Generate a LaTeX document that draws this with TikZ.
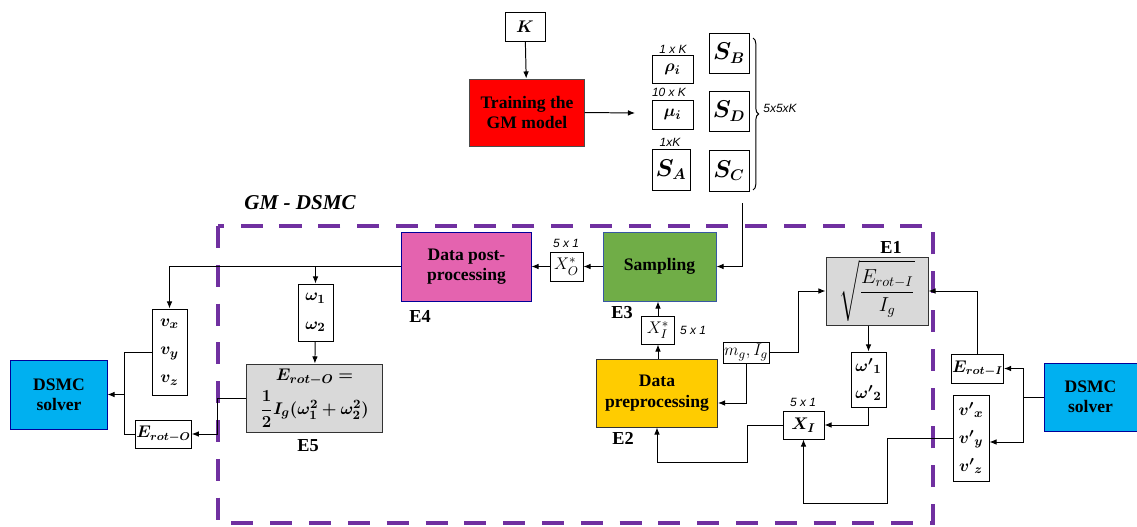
\documentclass[tikz,border=0pt]{standalone}
\usepackage{amsmath,bm}
\usepackage{fontspec}
\setmainfont{Liberation Serif}
\newfontfamily\arialfont{Liberation Sans}
\usetikzlibrary{arrows.meta,decorations.pathreplacing,calc}

\definecolor{gmpurple}{RGB}{112,48,160}
\definecolor{gmred}{RGB}{255,0,0}
\definecolor{gmpink}{RGB}{228,99,175}
\definecolor{gmgreen}{RGB}{112,173,71}
\definecolor{gmyellow}{RGB}{255,204,0}
\definecolor{gmblue}{RGB}{0,176,240}
\definecolor{gmgray}{RGB}{217,217,217}

\begin{document}
\begin{tikzpicture}[x=0.025cm,y=-0.025cm,
  box/.style={draw, line width=0.7pt, inner sep=0.5pt, align=center, font=\fontsize{13}{15}\selectfont},
  blk/.style={box, font=\fontsize{12.5}{14.5}\selectfont\bfseries},
  big/.style={font=\fontsize{16}{18}\selectfont},
  arr/.style={-{Latex[length=5pt,width=4pt]}, line width=0.7pt},
  dim/.style={font=\arialfont\itshape\fontsize{8.5}{10}\selectfont, inner sep=0pt},
  tag/.style={font=\fontsize{13}{15}\selectfont\bfseries, inner sep=0pt}]

\useasboundingbox (0,0) rectangle (1137,526);

% GM - DSMC frame
\draw[gmpurple, line width=3.5pt, dash pattern=on 0.55cm off 0.42cm] (218,226) rectangle (933,523);
\node[font=\fontsize{15}{17}\selectfont\bfseries\itshape] (gmlbl) at (300,203) {GM - DSMC};

% Training of the GM model
\node[box, minimum width=1cm, minimum height=0.725cm] (K) at (525,26.5) {$\bm{K}$};
\node[blk, fill=gmred, draw=black!70, minimum width=2.85cm, minimum height=1.675cm] (train) at (527,112.5) {Training the\\GM model};
\coordinate (gmout) at (635,113);

% GM parameters
\node[box, minimum width=1.025cm, minimum height=0.7cm] (rho) at (672.5,69) {$\bm{\rho_i}$};
\node[box, minimum width=1.025cm, minimum height=0.725cm] (mu) at (672.5,114.5) {$\bm{\mu_i}$};
\node[box, big, minimum width=0.95cm, minimum height=1.025cm] (sA) at (671,169.5) {$\bm{S_A}$};
\node[box, big, minimum width=1cm, minimum height=1cm] (sB) at (729,53) {$\bm{S_B}$};
\node[box, big, minimum width=1cm, minimum height=1cm] (sD) at (729,111) {$\bm{S_D}$};
\node[box, big, minimum width=1cm, minimum height=1.025cm] (sC) at (729,170.5) {$\bm{S_C}$};
\node[dim] (rhodim) at (673,49) {1 x K};
\node[dim] (mudim) at (669,92) {10 x K};
\node[dim] (sAdim) at (670,142) {1xK};
\draw[line width=0.7pt, decorate, decoration={brace, amplitude=4pt}] (753,38) -- (753,190);
\node[dim] (sdim) at (780,108) {5x5xK};
\coordinate (gmdraw) at (742,203);

% GM - DSMC blocks
\node[blk, fill=gmpink, draw=blue!60!black, minimum width=3.225cm, minimum height=1.725cm] (post) at (466.5,266.5) {Data post-\\processing};
\node[box, minimum width=0.825cm, minimum height=0.725cm] (xo) at (566.5,266.5) {$X_O^*$};
\node[blk, fill=gmgreen, draw=blue!50!gmgreen, minimum width=2.825cm, minimum height=1.725cm] (samp) at (659.5,266.5) {Sampling};
\node[box, minimum width=0.825cm, minimum height=0.7cm] (xis) at (658,330) {$X_I^*$};
\node[blk, fill=gmyellow, draw=black!80, minimum width=3.025cm, minimum height=1.7cm] (pre) at (657,393) {Data\\preprocessing};
\node[box, minimum width=1.15cm, minimum height=0.525cm, inner sep=0pt] (mg) at (746,352.5) {$m_g,I_g$};
\node[box, fill=gmgray, draw=black!80, font=\fontsize{14}{16}\selectfont, minimum width=2.55cm, minimum height=1.7cm] (e1) at (877,291) {$\displaystyle\sqrt{\frac{E_{rot-I}}{I_g}}$};
\node[box, minimum width=0.875cm, minimum height=1.375cm] (omp) at (868.5,379.5) {$\bm{{\omega'}_1}$\\[4pt]$\bm{{\omega'}_2}$};
\node[box, minimum width=1.025cm, minimum height=0.7cm] (xi) at (803.5,425) {$\bm{X_I}$};
\node[box, minimum width=0.875cm, minimum height=1.425cm] (om) at (315.5,312.5) {$\bm{\omega_1}$\\[5pt]$\bm{\omega_2}$};
\node[box, fill=gmgray, draw=black!80, minimum width=3.375cm, minimum height=1.7cm] (e5) at (314.5,398) {$\bm{E_{rot-O}=}$\\[3pt]$\bm{\dfrac{1}{2}I_g(\omega_1^2+\omega_2^2)}$};
\node[dim] (xodim) at (566,243) {5 x 1};
\node[dim] (xisdim) at (693,330) {5 x 1};
\node[dim] (xidim) at (803,402) {5 x 1};
\node[tag] (e1l) at (891,247) {E1};
\node[tag] (e2l) at (623,438) {E2};
\node[tag] (e3l) at (622,313) {E3};
\node[tag] (e4l) at (420,316) {E4};
\node[tag] (e5l) at (308,446) {E5};

% DSMC solver side
\node[blk, fill=gmblue, draw=blue!60!black, minimum width=2.325cm, minimum height=1.7cm] (dsr) at (1090.5,397) {DSMC\\solver};
\node[box, font=\fontsize{12}{14}\selectfont, minimum width=1.275cm, minimum height=0.725cm] (erotI) at (977.5,368.5) {$\bm{E_{rot-I}}$};
\node[box, minimum width=0.9cm, minimum height=2.15cm] (vp) at (971,438) {$\bm{{v'}_x}$\\[5pt]$\bm{{v'}_y}$\\[5pt]$\bm{{v'}_z}$};
\node[blk, fill=gmblue, draw=blue!60!black, minimum width=2.4cm, minimum height=1.725cm] (dsl) at (59,394.5) {DSMC\\solver};
\node[box, minimum width=0.875cm, minimum height=2.15cm] (vb) at (169.5,352) {$\bm{v_x}$\\[5pt]$\bm{v_y}$\\[5pt]$\bm{v_z}$};
\node[box, font=\fontsize{11.5}{13}\selectfont, minimum width=1.225cm, minimum height=0.7cm] (erotO) at (163.5,434) {$\bm{E_{rot-O}}$};

% Connectors
\draw[arr] (K) -- (train);
\draw[arr] (train.east) -- (gmout);
\draw[arr] (gmdraw) |- (samp.east);
\draw[arr] (samp) -- (xo);
\draw[arr] (xo) -- (post);
\draw[arr] (post.west) -| (vb.north);
\draw[arr] (post.west -| om.north) -- (om.north);
\draw[arr] (om) -- (e5);
\draw[arr] (e5.west) -- ++(-29,0) |- (erotO.east);
\draw[line width=0.7pt] (vb.west) -- ++(-27,0) coordinate (jl) |- (erotO.west);
\draw[arr] (jl |- dsl.east) -- (dsl.east);
\draw[arr] (pre.north -| xis.south) -- (xis.south);
\draw[arr] (xis.north) -- (xis.north |- samp.south);
\draw[arr] (mg.south) |- ([yshift=-0.25cm]pre.east);
\draw[arr] (mg.east) -- ++(29,0) |- (e1.west);
\draw[arr] (e1.south -| omp.north) -- (omp.north);
\draw[arr] (omp.south) |- (xi.east);
\draw[arr] (xi.west) -| ++(-35,37) -| (pre.south);
\draw[arr] (vp.west) -| ++(-65,65) -| (xi.south);
\draw[line width=0.7pt] (dsr.west) -- ++(-20,0) coordinate (jr);
\draw[arr] (jr) |- (erotI.east);
\draw[arr] (jr) |- ([yshift=-0.1cm]vp.east);
\draw[arr] (erotI.north) |- (e1.east);

\end{tikzpicture}
\end{document}
